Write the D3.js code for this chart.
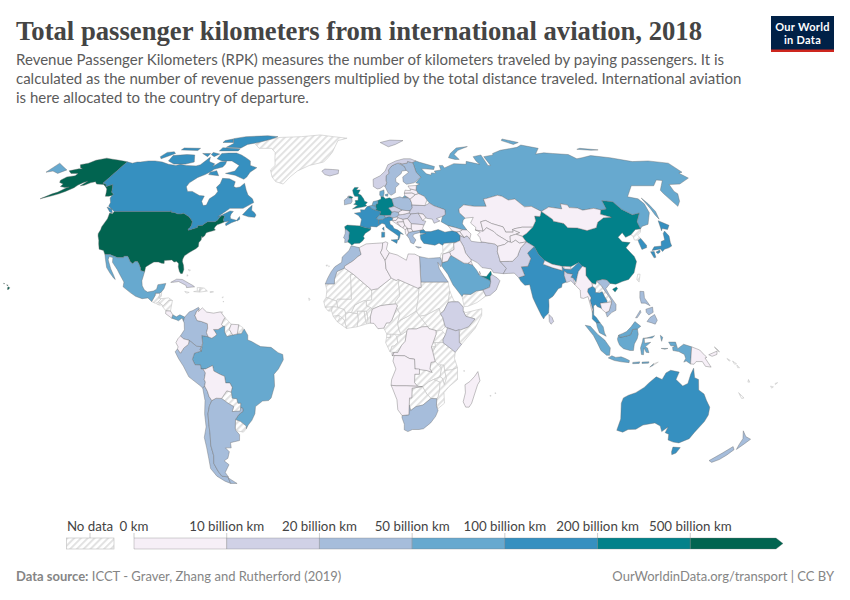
<!DOCTYPE html>
<html>
<head>
<meta charset="utf-8">
<script src="https://cdn.jsdelivr.net/npm/d3@7"></script>
<style>
  html, body { margin: 0; background: #fff; }
  text { font-family: Lato, sans-serif; }
</style>
</head>
<body>
<div id="app"></div>
<script>
// Legend
const binEdges = [10, 20, 50, 100, 200, 500]
const binColors = ['#f6eff7', '#d0d1e6', '#a6bddb', '#67a9cf', '#3690c0', '#02818a', '#016450']
const legendLabels = ['0 km', '10 billion km', '20 billion km', '50 billion km', '100 billion km', '200 billion km', '500 billion km']

// RPK, billion km
const countries = [
  'United States', 'China', 'United Kingdom', 'Germany', 'Spain', 'UAE',
  'Canada', 'France', 'Italy', 'Turkey', 'India', 'Thailand', 'Japan', 'South Korea', 'Australia',
  'Russia', 'Mexico', 'Brazil', 'Saudi Arabia', 'Indonesia', 'Malaysia', 'Netherlands', 'Belgium', 'Switzerland', 'Denmark', 'Panama',
  'Sweden', 'Finland', 'Ireland', 'Poland', 'Portugal', 'Austria', 'Greece', 'Morocco', 'Egypt', 'South Africa', 'Colombia', 'Peru', 'Chile', 'Argentina', 'Philippines', 'Vietnam', 'New Zealand',
  'Norway', 'Iceland', 'Ukraine', 'Romania', 'Czechia', 'Hungary', 'Iran', 'Pakistan', 'Oman', 'Ethiopia', 'Kenya', 'Cuba', 'Sri Lanka', 'Bangladesh',
  'Kazakhstan', 'Mongolia', 'Uzbekistan', 'Turkmenistan', 'Kyrgyzstan', 'Tajikistan', 'Afghanistan', 'Iraq', 'Belarus', 'Lithuania', 'Latvia', 'Estonia', 'Slovakia', 'Slovenia', 'Croatia', 'Bosnia', 'Serbia', 'Montenegro', 'Albania', 'North Macedonia', 'Bulgaria', 'Moldova', 'Georgia', 'Armenia', 'Azerbaijan', 'Algeria', 'Tunisia', 'Libya', 'Nigeria', 'DR Congo', 'Angola', 'Namibia', 'Madagascar', 'Venezuela', 'Ecuador', 'Bolivia', 'Suriname', 'Costa Rica', 'Myanmar', 'Nepal', 'Bhutan', 'Cambodia', 'Papua New Guinea', 'Jordan', 'Qatar', 'Kuwait'
]
const rpk = [
  650, 320, 420, 300, 220, 380,
  180, 190, 120, 130, 110, 120, 150, 140, 160,
  90, 70, 60, 85, 75, 80, 95, 60, 70, 55, 52,
  40, 30, 35, 25, 35, 30, 28, 22, 30, 30, 25, 22, 30, 28, 40, 35, 30,
  18, 14, 15, 12, 14, 12, 15, 16, 12, 14, 12, 11, 12, 12,
  6, 2, 3, 2, 2, 1, 1, 6, 4, 4, 4, 2, 3, 1, 3, 1, 4, 1, 2, 1, 7, 1, 2, 2, 5, 8, 6, 3, 8, 1, 3, 1, 2, 5, 6, 4, 2, 6, 5, 3, 1, 4, 3, 8, 9, 9
]
const noDataCountries = [
  'Greenland', 'Guatemala', 'Belize', 'Honduras', 'El Salvador', 'Nicaragua', 'Haiti', 'Dominican Republic', 'Guyana', 'French Guiana', 'Paraguay', 'Uruguay', 'Syria', 'Israel', 'Yemen', 'Laos', 'Taiwan', 'North Korea', 'Sudan', 'South Sudan', 'Eritrea', 'Somalia', 'Uganda', 'Tanzania', 'Rwanda', 'Burundi', 'Congo', 'Gabon', 'Equatorial Guinea', 'Cameroon', 'Central African Republic', 'Chad', 'Niger', 'Benin', 'Togo', 'Ghana', 'Ivory Coast', 'Burkina Faso', 'Mali', 'Mauritania', 'Senegal', 'Guinea-Bissau', 'Guinea', 'Sierra Leone', 'Liberia', 'Zambia', 'Malawi', 'Mozambique', 'Zimbabwe', 'Botswana', 'Lesotho', 'Eswatini', 'Pacific islands'
]

// Country outlines, [lon, lat] rings
const outlines = {
  'United States': [
    [[-123,49],[-95.2,49],[-95.2,49.4],[-94.6,48.7],[-93,48.6],[-91.5,48.1],[-89.6,48],[-88.4,48.3],[-84.9,46.9],[-84.5,46.5],[-83.6,46.1],[-83.5,45.8],[-82.5,45.3],[-82.1,43.6],[-82.5,42.6],[-83.1,42.1],[-82.7,41.7],[-79,42.8],[-79,43.3],[-79.2,43.5],[-76.8,43.6],[-76.4,44.1],[-75,45],[-71.5,45],[-70.8,45.4],[-70.3,46.2],[-70,46.7],[-69.2,47.45],[-68.3,47.35],[-67.8,47.07],[-67.8,45.7],[-67,44.9],[-68.5,44.3],[-70,43.8],[-70.7,43],[-70.8,42.3],[-70,41.8],[-71.4,41.4],[-73.7,40.9],[-74,40.5],[-74.2,39.6],[-75,38.9],[-75.5,39.5],[-75.3,38],[-76,37],[-75.7,35.5],[-76.6,34.7],[-78,33.9],[-79.2,33.2],[-81,32],[-81.4,30.7],[-81.3,29.8],[-80.5,28.4],[-80,26.8],[-80.3,25.3],[-81,25.2],[-81.8,26],[-82.7,27.8],[-82.8,29],[-83.8,29.8],[-85,29.6],[-86.2,30.4],[-88,30.3],[-89.5,30.2],[-89.3,29.1],[-90.5,29.2],[-92,29.6],[-94,29.6],[-95.5,28.8],[-97.2,27.7],[-97.2,25.95],[-99.1,26.4],[-99.5,27.5],[-100.5,28.9],[-101.4,29.8],[-102.5,29.8],[-103.3,29],[-104.5,29.6],[-106.5,31.8],[-108.2,31.8],[-108.2,31.3],[-111,31.3],[-114.8,32.5],[-117.1,32.5],[-118.4,34],[-120.6,34.5],[-121.9,36.6],[-122.5,37.8],[-123.8,39.5],[-124.3,40.4],[-124.2,42],[-124.5,43],[-124,46.2],[-124.7,48.4],[-123,48.1]],
    [[-141,69.6],[-141,60.3],[-139,60],[-137.5,58.9],[-136.5,59.4],[-135,59.8],[-133.5,58.4],[-131.8,56.6],[-130,55.9],[-130,55.3],[-131.5,55],[-133.2,55],[-134.5,56.5],[-136,58],[-138,59],[-140,59.8],[-144,60],[-146,61],[-148,60.5],[-150,59.5],[-151.8,59.3],[-150.5,61.2],[-152,60.7],[-153.5,59.5],[-154,58.5],[-156.5,57],[-158.5,56],[-161,55.2],[-165.5,54],[-162,56],[-160,56.7],[-158,58.5],[-157,58.8],[-159,58.6],[-162,59],[-162,60],[-165,60.7],[-166,61.6],[-164.8,63],[-161,63.5],[-161,64.5],[-165,64.5],[-168,65.6],[-164,66.5],[-162,66.5],[-164,67],[-166.5,68.3],[-163,69],[-161,70.3],[-156.5,71.3],[-152,70.8],[-148,70.4],[-144,70]],
    [[-155.9,20.2],[-155,19.8],[-155.7,19],[-156,19.7]],
    [[-158.2,21.6],[-157.7,21.4],[-158.1,21.3]],
    [[-156.7,21],[-156,20.8],[-156.4,20.6]]
  ],
  'Canada': [
    [[-141,69.6],[-137,69],[-135,69.5],[-133,69.5],[-129,70],[-125,70],[-120,69.5],[-115,68.5],[-110,68],[-108,68.5],[-104,68],[-98,67.8],[-96,68.3],[-94,71.8],[-92.5,70],[-91.5,69.5],[-88,68.7],[-88,67.5],[-85.5,69.5],[-82,69.8],[-81.5,68.5],[-82,67.3],[-86,66.3],[-87,65.2],[-89,64],[-92,62.8],[-94.5,60.5],[-94.7,58.9],[-92.5,57],[-90,57],[-85,55.3],[-82.3,55.1],[-82.3,53],[-80.5,51.3],[-79,51.5],[-79,54],[-77,55.5],[-76.6,57],[-78.5,58.7],[-77.5,60.2],[-78,62.4],[-74,62.2],[-70,61],[-69.5,59],[-68,58.5],[-66,58.8],[-64.5,60.3],[-62,57.5],[-60,55.5],[-57,54],[-55.7,52.5],[-58,51.3],[-60,50.2],[-66.5,50.2],[-69,48.4],[-71,46.9],[-69.5,47.5],[-66,49.2],[-64.3,49],[-65,48],[-65,47],[-64.5,46.2],[-62,45.7],[-61,45.3],[-60,46],[-60.5,47],[-61.5,45.3],[-63.5,44.6],[-65.7,43.5],[-66.2,44.2],[-65,45.2],[-67,44.9],[-67.8,45.7],[-67.8,47.07],[-68.3,47.35],[-69.2,47.45],[-70,46.7],[-70.3,46.2],[-70.8,45.4],[-71.5,45],[-75,45],[-76.4,44.1],[-76.8,43.6],[-79.2,43.5],[-79,43.3],[-79,42.8],[-82.7,41.7],[-83.1,42.1],[-82.5,42.6],[-82.1,43.6],[-82.5,45.3],[-83.5,45.8],[-83.6,46.1],[-84.5,46.5],[-84.9,46.9],[-88.4,48.3],[-89.6,48],[-91.5,48.1],[-93,48.6],[-94.6,48.7],[-95.2,49.4],[-95.2,49],[-123,49],[-125,50],[-127.5,51],[-128,52.5],[-130,54.3],[-130,55.3],[-130,55.9],[-131.8,56.6],[-133.5,58.4],[-135,59.8],[-136.5,59.4],[-137.5,58.9],[-139,60],[-141,60.3]],
    [[-59.3,47.7],[-56,46.9],[-53,46.7],[-52.7,47.6],[-53.7,48.5],[-55.5,49.5],[-56,51.4],[-57.5,50]],
    [[-123.4,48.4],[-125,48.8],[-128,50.7],[-125,50]],
    [[-80,73.7],[-76,72.8],[-72,71.5],[-68,70],[-66.5,68],[-62,67],[-64.5,65],[-65,63],[-66,62],[-72,63.7],[-78,64.5],[-73.5,65.5],[-73,68],[-79,70],[-85,70],[-89,71],[-89,73.5],[-85,73.7]],
    [[-117,70],[-112,68.6],[-105,68.6],[-101,69.5],[-105,72.8],[-110,73],[-118,72.5]],
    [[-125,72],[-123,71],[-118,73.5],[-120,74.3],[-124,74]],
    [[-90,76.5],[-80,76.2],[-78,78],[-72,79],[-65,81],[-62,82.5],[-70,83.1],[-85,82.5],[-92,81.2],[-88,78.5]],
    [[-92,74.7],[-80,74.7],[-80,75.8],[-92,76.3]],
    [[-96,79],[-89,79],[-92,81],[-96,80]],
    [[-117,75.2],[-106,74.9],[-106,76],[-117,76.2]],
    [[-101,73.5],[-96,72],[-96,73.5]],
    [[-95,74],[-90,73.2],[-92,72],[-95,73]],
    [[-87,64],[-81,63.5],[-84,65.7],[-87,65]]
  ],
  'Mexico': [[[-117.1,32.5],[-114.8,32.5],[-111,31.3],[-108.2,31.3],[-108.2,31.8],[-106.5,31.8],[-104.5,29.6],[-103.3,29],[-102.5,29.8],[-101.4,29.8],[-100.5,28.9],[-99.5,27.5],[-99.1,26.4],[-97.2,25.95],[-97.7,22.5],[-97.2,20.6],[-96,19],[-94.5,18.2],[-92,18.6],[-90.7,19.3],[-90.4,21],[-87,21.5],[-87.5,19.5],[-88.3,18.4],[-89.1,17.8],[-91,17.8],[-91,16.9],[-92.2,14.6],[-94,16],[-96.5,15.7],[-99.5,16.6],[-102,18],[-105.5,20.2],[-105.5,22],[-108,25],[-109.5,26.7],[-112.5,29.5],[-113,31.3],[-114.8,31.7],[-114.8,30.5],[-112.5,27],[-110.5,24.5],[-109.5,23],[-110.3,23.5],[-112.5,25.5],[-114.5,27.5],[-116,30.5]]],
  'Greenland': [[[-73,78.2],[-68,76],[-60,76],[-56,74],[-54,71],[-52,68],[-53.5,66],[-51,63],[-48,61],[-43.5,60],[-41,63],[-38,65.5],[-32,68],[-24,69.5],[-22,71.5],[-20,74],[-19,77],[-18,80],[-12,81.5],[-22,82.5],[-32,83.6],[-45,82.5],[-60,82],[-65,81],[-70,79.5]]],
  'Guatemala': [[[-92.2,14.6],[-91,16.9],[-91,17.8],[-89.1,17.8],[-89.2,15.9],[-88.2,15.7],[-89.3,14.4],[-90.5,13.9]]],
  'Belize': [[[-89.1,17.8],[-88.3,18.4],[-88.3,16.5],[-89.2,15.9]]],
  'Honduras': [[[-88.2,15.7],[-85,16],[-83.2,15],[-84.7,15],[-87,13],[-87.7,13.4],[-89.3,14.4]]],
  'El Salvador': [[[-90,13.7],[-89.3,14.4],[-87.7,13.4],[-88.5,13.2]]],
  'Nicaragua': [[[-83.2,15],[-83.7,11],[-85.7,11.1],[-87.6,13],[-87,13],[-84.7,15]]],
  'Costa Rica': [[[-83.7,11],[-82.6,9.6],[-83,8.3],[-85.7,10],[-85.7,11.1]]],
  'Panama': [[[-82.6,9.6],[-81,8.8],[-79.5,9.6],[-77.4,8.7],[-77.9,7.2],[-78.5,8.4],[-80,7.3],[-81,7.7],[-83,8.3]]],
  'Cuba': [[[-84.9,21.9],[-82.5,23.1],[-80,23],[-75,20.7],[-74.2,20.2],[-77.7,19.9],[-78,20.7],[-81.5,22.2],[-84,21.9]]],
  'Haiti': [[[-74.4,18.4],[-71.7,18.2],[-71.7,19.9],[-73,19.9],[-72.8,18.6]]],
  'Dominican Republic': [[[-71.7,18.2],[-68.4,18.6],[-69.9,19.7],[-71.7,19.9]]],
  'Colombia': [[[-77.4,8.7],[-75.5,10.7],[-74,11.2],[-71.7,12.4],[-71.3,11.8],[-72.3,11],[-73,9.3],[-72,7.4],[-70,7],[-67.5,6.2],[-67.3,4.5],[-67.8,2.8],[-67,1.2],[-69.8,1.7],[-69.4,-1.2],[-70,-2.5],[-70.7,-3.8],[-70,-4.2],[-70,-2.5],[-72,-2.4],[-75.2,-0.1],[-77.5,0.4],[-79,1.5],[-77.3,3.9],[-77.5,6.5],[-77.9,7.2]]],
  'Venezuela': [[[-71.3,11.8],[-71.6,10.8],[-70,12.2],[-68,10.6],[-65,10.2],[-62,10.7],[-60,8.5],[-60.7,7.5],[-61.4,5.9],[-60.7,5.2],[-62.8,4],[-64.8,4],[-63.4,2.2],[-64,1.5],[-65.5,0.7],[-67,1.2],[-67.8,2.8],[-67.3,4.5],[-67.5,6.2],[-70,7],[-72,7.4],[-73,9.3],[-72.3,11]]],
  'Guyana': [[[-60,8.5],[-57.2,6],[-58,4],[-56.5,1.9],[-59,1.3],[-60,3],[-60,5.2],[-60.7,5.2],[-61.4,5.9],[-60.7,7.5]]],
  'Suriname': [[[-57.2,6],[-54,5.8],[-54.5,2.3],[-56.5,1.9],[-58,4]]],
  'French Guiana': [[[-54,5.8],[-52,4.6],[-52.7,2.4],[-54.5,2.3]]],
  'Brazil': [[[-60.7,5.2],[-60,5.2],[-60,3],[-59,1.3],[-56.5,1.9],[-54.5,2.3],[-52.7,2.4],[-51.6,4.2],[-50,1.8],[-50,0],[-48.5,-0.5],[-44.5,-2.5],[-40,-2.8],[-37,-4.8],[-35,-5.5],[-34.8,-7.5],[-37,-11],[-39,-13],[-39,-17.5],[-40.8,-22],[-42,-23],[-44.7,-23.2],[-48,-25.3],[-48.6,-28],[-50.3,-30.5],[-52.3,-32.3],[-53.4,-33.7],[-53.2,-32.7],[-55.5,-30.9],[-57.6,-30.2],[-55.8,-28.3],[-53.8,-27.1],[-53.7,-26],[-54.6,-25.6],[-54.3,-24],[-55.6,-24],[-55.9,-22.3],[-57.9,-22.1],[-58,-20],[-58.2,-19.8],[-57.5,-18],[-58.4,-16.3],[-60.2,-16.3],[-60.5,-13.8],[-62.5,-13],[-65,-11.8],[-65.4,-9.7],[-68.5,-11],[-70.5,-11],[-70.6,-9.5],[-73,-9.4],[-74,-7.3],[-73,-5],[-70,-4.2],[-69.4,-1.2],[-69.8,1.7],[-67,1.2],[-65.5,0.7],[-64,1.5],[-63.4,2.2],[-64.8,4],[-62.8,4]]],
  'Ecuador': [[[-75.2,-0.1],[-77.5,0.4],[-79,1.5],[-80,0.5],[-80.9,-1],[-80,-2.6],[-80.3,-3.4],[-79,-5],[-77.5,-3],[-75.5,-1.6]]],
  'Peru': [[[-75.2,-0.1],[-75.5,-1.6],[-77.5,-3],[-79,-5],[-80.3,-3.4],[-81.3,-4.5],[-80,-7],[-78,-10],[-76,-14],[-71.5,-17.3],[-70.4,-18.3],[-69.5,-17.5],[-69,-16],[-69.4,-15],[-68.7,-12.5],[-69.6,-11],[-70.5,-11],[-70.6,-9.5],[-73,-9.4],[-74,-7.3],[-73,-5],[-70,-4.2],[-70.7,-3.8],[-70,-2.5],[-72,-2.4]]],
  'Bolivia': [[[-69.6,-11],[-68.5,-11],[-65.4,-9.7],[-65,-11.8],[-62.5,-13],[-60.5,-13.8],[-60.2,-16.3],[-58.4,-16.3],[-57.5,-18],[-58.2,-19.8],[-60,-19.3],[-62.6,-22.2],[-65,-22.1],[-67,-23],[-68,-21.5],[-68.5,-19.5],[-69.5,-17.5],[-69,-16],[-69.4,-15],[-68.7,-12.5]]],
  'Paraguay': [[[-58.2,-19.8],[-58,-20],[-57.9,-22.1],[-55.9,-22.3],[-55.6,-24],[-54.3,-24],[-54.6,-25.6],[-55,-27],[-58.6,-27.2],[-57.6,-25.3],[-60,-24],[-62.6,-22.2],[-60,-19.3]]],
  'Uruguay': [[[-53.4,-33.7],[-53.2,-32.7],[-55.5,-30.9],[-57.6,-30.2],[-58.4,-33.5],[-57.8,-34.5],[-55,-35]]],
  'Argentina': [
    [[-67,-23],[-65,-22.1],[-62.6,-22.2],[-60,-24],[-57.6,-25.3],[-58.6,-27.2],[-55,-27],[-54.6,-25.6],[-53.7,-26],[-53.8,-27.1],[-55.8,-28.3],[-57.6,-30.2],[-58.4,-33.5],[-58.4,-34.2],[-57,-36],[-57.6,-38.2],[-62,-39],[-62.3,-41],[-65,-41],[-63.7,-42.5],[-65.3,-45],[-67.5,-46],[-65.8,-47.5],[-69,-50.5],[-68.4,-52.3],[-71.5,-52],[-72.3,-50],[-73,-47],[-71.7,-44],[-71.5,-40],[-70.5,-36],[-70,-32],[-69.5,-28],[-68.3,-25]],
    [[-68.6,-52.7],[-65.3,-54.9],[-68.6,-54.9]]
  ],
  'Chile': [[[-70.4,-18.3],[-70,-23],[-71,-28],[-71.5,-33],[-73.5,-37],[-73.8,-41],[-74.5,-45],[-75.5,-49],[-74,-52],[-71,-54],[-68.6,-54.9],[-68.6,-52.7],[-68.4,-52.3],[-71.5,-52],[-72.3,-50],[-73,-47],[-71.7,-44],[-71.5,-40],[-70.5,-36],[-70,-32],[-69.5,-28],[-68.3,-25],[-67,-23],[-68,-21.5],[-68.5,-19.5],[-69.5,-17.5]]],
  'Spain': [[[-9.2,43.1],[-8,43.7],[-3.5,43.5],[-1.8,43.4],[0.7,42.7],[3.2,42.4],[3,41.8],[0.5,40.5],[-0.3,39.3],[0.2,38.7],[-0.7,37.6],[-2,36.8],[-4.4,36.7],[-5.6,36],[-6.4,36.7],[-7.4,37.2],[-7.5,37.6],[-7,38.5],[-7,39.6],[-6.9,41],[-8.2,41.9],[-8.8,41.9]]],
  'Portugal': [[[-8.8,41.9],[-8.2,41.9],[-6.9,41],[-7,39.6],[-7,38.5],[-7.5,37.6],[-7.4,37.2],[-8.9,37],[-8.8,38.4],[-9.5,38.8],[-8.8,40.5]]],
  'France': [
    [[-1.8,43.4],[-1.2,46],[-2.7,47.4],[-4.7,48.3],[-1.5,48.7],[-1.7,49.7],[0.2,49.6],[1.6,50.9],[2.5,51.1],[4.2,50],[5.8,49.5],[8.2,49],[7.6,47.6],[6,46.3],[7,45.8],[7,44.2],[7.5,43.8],[6,43],[3.2,43.2],[3.2,42.4],[0.7,42.7]],
    [[8.6,42.3],[9.4,43],[9.5,41.6]]
  ],
  'Belgium': [[[2.5,51.1],[4,51.4],[5.9,51],[6.1,50.1],[5.8,49.5],[4.2,50]]],
  'Netherlands': [[[4,51.4],[4.7,52.9],[7,53.3],[7,52],[6,51.8],[5.9,51]]],
  'Germany': [[[7,53.3],[8.7,53.9],[8.7,54.9],[9.9,54.8],[11,54],[13,54.4],[14.2,53.9],[14.7,52],[15,51],[12.2,50.3],[13.8,48.8],[13,47.5],[10,47.4],[7.6,47.6],[8.2,49],[5.8,49.5],[6.1,50.1],[5.9,51],[6,51.8],[7,52]]],
  'Switzerland': [[[7.6,47.6],[10,47.4],[10.4,46.6],[9,45.9],[7,45.8],[6,46.3]]],
  'Austria': [[[10,47.4],[13,47.5],[13.8,48.8],[15,49],[17,48.7],[17,47.7],[16,46.8],[14,46.5],[12.2,47],[10.4,46.6]]],
  'Italy': [
    [[7,45.8],[9,45.9],[10.4,46.6],[12.2,47],[14,46.5],[13.7,45.6],[12.3,45.3],[12.5,44],[13.6,43.5],[14.2,42.4],[16,41.8],[18.4,40.1],[17,40.5],[16.6,39],[16,38],[15.7,38],[16,39.5],[14,40.8],[12.3,41.7],[10.5,42.9],[10,44],[8.6,44.4],[7.5,43.8],[7,44.2]],
    [[12.5,38],[15.6,38.2],[15.1,36.7]],
    [[8.2,39],[8.3,41],[9.7,41],[9.6,39.1]]
  ],
  'United Kingdom': [
    [[-5.7,50],[-3.5,50.3],[0,50.8],[1.4,51.2],[0.7,51.6],[1.7,52.6],[0.3,53],[-0.2,54],[-1.6,55.5],[-3,56],[-2,57.6],[-4,57.6],[-3,58.6],[-5,58.6],[-6,57.5],[-5.5,56],[-4.8,55],[-3,54.9],[-3,54],[-3,53.4],[-4.5,53.3],[-4.2,52.3],[-5.2,51.8],[-3.2,51.4]],
    [[-7.3,55.1],[-5.7,54.6],[-6.2,54.1],[-8,54.4]]
  ],
  'Ireland': [[[-7.3,55.1],[-8,54.4],[-6.2,54.1],[-6,53],[-6.5,52.2],[-9.8,51.6],[-10,53.5],[-8.5,54.4],[-8.2,55.1]]],
  'Denmark': [
    [[8.1,55.5],[8.7,54.9],[9.9,54.8],[10.5,56.3],[10.5,57.6],[8.3,57]],
    [[11,55.7],[12.5,56],[12.2,55],[11,55.2]]
  ],
  'Norway': [
    [[5,59],[7,58],[8.5,58.2],[10.7,59.3],[11.2,59],[12.3,60.5],[12,61.5],[12.3,63.5],[14,64.5],[14,66],[16,67.7],[18,68.5],[20,69],[21,69],[22.5,68.7],[25.5,69],[26,69.8],[28.5,69.2],[31,70],[28,71],[24,71],[19,70],[14,68.3],[12,65.5],[9,63.5],[5,62]],
    [[11,79],[16,76.8],[21,78],[27,80],[18,80.3]]
  ],
  'Sweden': [[[11.2,59],[12.6,56.3],[14,55.4],[16.4,56.5],[16.7,58.5],[19,60],[17.3,61],[17.5,62.5],[21,64.5],[21.5,65.5],[24.1,65.8],[23.6,67.5],[20,69],[18,68.5],[16,67.7],[14,66],[14,64.5],[12.3,63.5],[12,61.5],[12.3,60.5]]],
  'Finland': [[[24.1,65.8],[25.3,65],[21.5,63],[21.3,61],[22.9,59.9],[27,60.5],[31.5,62.9],[29.5,65],[29,69],[28.5,69.2],[26,69.8],[25.5,69],[22.5,68.7],[21,69],[23.6,67.5]]],
  'Iceland': [[[-24,65.5],[-22,64],[-19,63.4],[-14.5,64.4],[-14.5,66],[-18,66.2],[-22.5,66.4]]],
  'Poland': [[[14.2,53.9],[18.5,54.8],[19.7,54.4],[22.8,54.4],[23.5,53.9],[24,52.5],[24,50.5],[22.7,49.2],[18.8,49.5],[15,51],[14.7,52]]],
  'Czechia': [[[12.2,50.3],[15,51],[18.8,49.5],[17,48.7],[15,49],[13.8,48.8]]],
  'Slovakia': [[[17,48.7],[18.8,49.5],[22.7,49.2],[22,48.4],[18.8,47.8],[17,47.7]]],
  'Hungary': [[[17,47.7],[18.8,47.8],[22,48.4],[22.9,48],[21,46.2],[18.8,45.9],[16.4,46.5],[16,46.8]]],
  'Slovenia': [[[13.7,45.5],[13.7,45.6],[14,46.5],[16,46.8],[16.4,46.5],[15.5,45.5]]],
  'Croatia': [[[13.6,45.3],[13.7,45.5],[15.5,45.5],[16.4,46.5],[18.8,45.9],[19,45],[15.8,44.8],[17.6,43],[15,44.5]]],
  'Bosnia': [[[15.8,44.8],[19,45],[19.4,43.6],[18.4,42.6],[17.6,43]]],
  'Serbia': [[[19,45],[18.8,45.9],[21,46.2],[22.6,44.2],[22.4,42.3],[20.5,42.3],[19.4,43.6]]],
  'Montenegro': [[[18.4,42.6],[19.4,43.6],[20.5,42.5],[19.4,41.9]]],
  'Albania': [[[19.4,41.9],[20.5,42.5],[20.9,40.9],[20,39.7],[19.4,40.5]]],
  'North Macedonia': [[[20.5,42.3],[22.4,42.3],[23,41.3],[20.9,40.9]]],
  'Greece': [
    [[20,39.7],[20.9,40.9],[23,41.3],[26.3,41.7],[26,40.8],[23.5,40.3],[22.7,39.5],[24,38],[22.8,36.5],[21.5,37],[21,38.5]],
    [[23.6,35.5],[26.2,35.2],[24.8,34.9]]
  ],
  'Bulgaria': [[[22.4,42.3],[22.6,44.2],[27.7,43.9],[28.5,43.6],[27.7,42.5],[28,42],[26.3,41.7],[23,41.3]]],
  'Romania': [[[21,46.2],[22.9,48],[26.6,48.3],[28.2,45.5],[29.7,45.2],[28.5,43.6],[27.7,43.9],[22.6,44.2]]],
  'Moldova': [[[26.6,48.3],[29,47.9],[30,46.5],[28.2,45.5]]],
  'Ukraine': [[[22.7,49.2],[24,50.5],[24,51.6],[30.5,51.3],[33,52.3],[35,51.2],[40,49.7],[39.7,47.8],[38.2,47.1],[35,46.2],[36.5,45.3],[33.5,44.4],[33,46],[30.5,46.3],[30,46.5],[29,47.9],[26.6,48.3],[22.9,48],[22,48.4]]],
  'Belarus': [[[24,52.5],[23.5,53.9],[26.6,55.7],[28.2,56.1],[31,55],[32,53.5],[30.5,51.3],[24,51.6]]],
  'Lithuania': [[[21,55.3],[21,56.3],[25,56.4],[26.6,55.7],[23.5,53.9],[22.8,54.4]]],
  'Latvia': [[[21,56.3],[21.6,57.5],[24.4,57.3],[24.4,58],[27.4,57.5],[28.2,56.1],[26.6,55.7],[25,56.4]]],
  'Estonia': [[[23.5,59.2],[28,59.4],[27.4,57.5],[24.4,58],[24,58.4]]],
  'Turkey': [[[26.3,41.7],[28,42],[29,41.2],[31.4,41.2],[35,42],[38,41],[41.5,41.5],[43.5,41.1],[44.8,39.7],[44.4,37.8],[42.4,37.1],[36.7,36.8],[36,36],[34.5,36.8],[32.5,36],[30.5,36.3],[27.5,36.7],[26.3,38.3],[26.2,40],[29,40.5],[26.2,40.6]]],
  'Russia': [
    [[31,70],[33,69.4],[41,67.5],[40,66.2],[35,66.5],[33,66.5],[35,64.3],[37.5,63.8],[38,64.7],[40.5,64.6],[40,65.5],[44,66],[44,68],[46,68],[46.5,66.9],[53,68.8],[60,68.5],[61,69.8],[68,68.5],[67,70],[67,72],[72.5,72.8],[72.5,68],[74,68],[73.5,72],[80,72.8],[80.5,73.5],[87,75],[100,76.5],[104.5,77.7],[113,76],[107,73.2],[113,73.8],[118,73.5],[127,73],[129,71],[133,71.5],[140,72.5],[150,71.5],[160,69.7],[170,70],[180,69],[180,65],[177.5,64.6],[179,62.5],[170,60],[164,59.8],[162.5,57],[163,56],[160,53],[156.7,51],[155.7,56],[156,57.5],[163,61.5],[160,61.7],[155,59.3],[143,59.3],[135.5,54.8],[140,54],[141,52],[140,48.5],[135.5,44],[132,43.2],[130.7,42.3],[131,45],[135,48.4],[131,47.7],[127.5,49.8],[126,52.8],[120.8,53.3],[120,50],[117,49.6],[114,50.2],[108,49.5],[106,50.3],[102,50.5],[102,51.5],[98.8,52],[98,50],[92,50.7],[87.3,49],[83.5,51],[80,50.8],[77,53.9],[73.4,53.5],[71,55],[69,55.4],[62,54],[61,53.9],[61,51],[55,51],[50,51.6],[47,50],[46.8,48.5],[49,46.4],[47.8,45.7],[47,44.2],[48.5,41.8],[46.5,41.9],[43.5,42.7],[40,43.5],[37,45],[38.2,47.1],[39.7,47.8],[40,49.7],[35,51.2],[33,52.3],[32,53.5],[31,55],[28.2,56.1],[27.4,57.5],[28,59.4],[30,60],[28,60.5],[31.5,62.9],[29.5,65],[29,69],[28.5,69.2]],
    [[142,54.3],[143,52],[143.5,49],[142.5,46],[142,47.5],[142,50]],
    [[51.5,71.5],[55,70.7],[57.5,70.7],[56,73],[60,75],[68,76.9],[60,76.2],[54,73.5]],
    [[95,80],[100,78],[105,79],[97,81]],
    [[137,75.5],[145,75],[150,75.2],[140,76]],
    [[-180,69],[-175,67.5],[-170,66],[-172.5,64.5],[-177,65.5],[-180,65]],
    [[19.7,54.4],[22.8,54.4],[21,55.3]]
  ],
  'Georgia': [[[40,43.5],[43.5,42.7],[46.5,41.9],[45,41.2],[43.5,41.1],[41.5,41.5]]],
  'Armenia': [[[43.5,41.1],[45,41.2],[46.5,39],[44.8,39.7]]],
  'Azerbaijan': [[[45,41.2],[46.5,41.9],[48.5,41.8],[50,40.3],[49,38.4],[48,39.6],[46.5,39]]],
  'Kazakhstan': [[[47,50],[50,51.6],[55,51],[61,51],[61,53.9],[62,54],[69,55.4],[71,55],[73.4,53.5],[77,53.9],[80,50.8],[83.5,51],[87.3,49],[85.5,47],[83,47.2],[82.5,45.3],[80,42.9],[75,42.9],[71,42.3],[70,41],[66.5,41],[66,43],[61,44.3],[58.5,45.5],[56,45],[56,41.3],[52.5,41.8],[53,42.8],[51,44.5],[53,46.7],[49,46.4],[46.8,48.5]]],
  'Uzbekistan': [[[56,45],[58.5,45.5],[61,44.3],[66,43],[66.5,41],[70,41],[70,42],[73,40.8],[71,40.2],[68,39.5],[67.5,37.3],[66.5,37.4],[62,40],[61,41.2],[58,42.7],[56,41.3]]],
  'Turkmenistan': [[[52.5,41.8],[56,41.3],[58,42.7],[61,41.2],[62,40],[66.5,37.4],[64.5,36.3],[61.2,35.6],[60,36.5],[54,37.3],[53.8,39],[53,40],[54.5,41]]],
  'Tajikistan': [[[67.5,37.3],[68,39.5],[71,40.2],[73.6,39.4],[74.8,37.3],[71.5,36.8],[70,37.9],[68,37]]],
  'Kyrgyzstan': [[[70,42],[71,42.3],[75,42.9],[80,42.9],[76,40.5],[73.6,39.4],[71,40.2],[73,40.8]]],
  'Iran': [[[44.8,39.7],[46.5,39],[48,39.6],[49,38.4],[49.5,37.5],[54,37],[54,37.3],[60,36.5],[61.2,35.6],[60.5,33.5],[60.8,31.5],[61,29.8],[63.3,27.2],[61.6,25.2],[57.3,25.6],[56.5,27],[52.5,27.5],[50.8,29.3],[48.7,30.3],[48,30.5],[46,33],[45.5,35.5],[44.4,37.8]]],
  'Iraq': [[[42.4,37.1],[44.4,37.8],[45.5,35.5],[46,33],[48,30.5],[48,29.9],[46.5,29.1],[44.7,29.2],[39.2,32.2],[38.8,33.4],[41,34.4],[41.2,36.7]]],
  'Syria': [[[36,36],[36.7,36.8],[42.4,37.1],[41.2,36.7],[41,34.4],[38.8,33.4],[36,32.7],[35.7,33],[35.9,35]]],
  'Jordan': [[[36,32.7],[38.8,33.4],[39.2,32.2],[37.5,30],[35,29.4],[35.6,32.5]]],
  'Israel': [[[34.3,31.3],[35,33],[35.7,33],[35.6,32.5],[35,29.4]]],
  'Saudi Arabia': [[[35,29.4],[37.5,30],[39.2,32.2],[44.7,29.2],[46.5,29.1],[48.4,28.5],[50,26.5],[51,24.6],[51.6,24.3],[55.1,22.7],[55.7,22],[55,20],[52,19],[49,18.6],[46.5,17.3],[43.3,17.4],[42.7,16.5],[39,21],[37,25],[34.6,28.1]]],
  'UAE': [[[51.6,24.3],[54,24.1],[56.2,26.2],[56.4,24.9],[55.7,24],[55.7,22],[55.1,22.7]]],
  'Qatar': [[[50.8,24.8],[51.2,26.1],[51.6,25]]],
  'Kuwait': [[[46.5,29.1],[48,29.9],[48.4,28.5]]],
  'Oman': [[[55.7,22],[55.7,24],[56.4,24.9],[58.7,23.6],[59.8,22.5],[57.8,19],[55,17],[53.1,16.7],[52,19],[55,20]]],
  'Yemen': [[[43.3,17.4],[46.5,17.3],[49,18.6],[52,19],[53.1,16.7],[49,14.2],[45,12.8],[43.4,12.7],[42.7,16.5]]],
  'Afghanistan': [[[60.5,33.5],[61.2,35.6],[64.5,36.3],[66.5,37.4],[68,37],[70,37.9],[71.5,36.8],[74.8,37.3],[71.5,35],[70,33],[69.3,31.9],[66.5,29.9],[61,29.8],[60.8,31.5]]],
  'Pakistan': [[[61,29.8],[66.5,29.9],[69.3,31.9],[70,33],[71.5,35],[74.8,37.3],[77.8,35.5],[74,33],[75,31],[73,28],[70,27.8],[71,24.5],[68.2,23.7],[66.5,25.4],[61.6,25.2],[63.3,27.2]]],
  'India': [[[74,33],[77.8,35.5],[78.9,32.5],[81,30.2],[80,28.8],[84,27.4],[88,26.4],[88.2,28],[89,27],[92,26.9],[96,29.4],[97.3,28],[95,26],[94,24],[93.2,22],[92.3,23.5],[91.2,23.8],[92.2,25],[89.9,25.3],[88.8,26.2],[88.4,24.5],[88.9,22],[87,21.4],[86.5,20],[85,19.5],[82.3,16.6],[80.3,15.5],[80.2,13],[79.8,10.3],[78,8.8],[77.5,8],[76.5,9.5],[74.8,13],[73.5,16],[72.8,20],[72.7,21],[70.5,20.8],[69,22.3],[68.2,23.7],[71,24.5],[70,27.8],[73,28],[75,31]]],
  'Nepal': [[[80,28.8],[81,30.2],[84,28.8],[88.2,28],[88,26.4],[84,27.4]]],
  'Bhutan': [[[89,27],[89,28],[92,27.8],[92,26.9]]],
  'Bangladesh': [[[88.8,26.2],[89.9,25.3],[92.2,25],[91.2,23.8],[92.3,23.5],[92.5,21],[91,22.5],[89,21.8],[88.9,22],[88.4,24.5]]],
  'Sri Lanka': [[[79.9,9.7],[81.2,8.5],[81.8,7],[80.6,6],[79.9,7]]],
  'China': [
    [[73.6,39.4],[76,40.5],[80,42.9],[82.5,45.3],[83,47.2],[85.5,47],[87.3,49],[91,46],[91,45.2],[95.5,44.3],[96.5,42.7],[101,42.6],[105,41.6],[110,42.7],[112,44.8],[116,46.5],[120,46.7],[115.5,47.9],[117,49.6],[120,50],[120.8,53.3],[126,52.8],[127.5,49.8],[131,47.7],[135,48.4],[131,45],[130.7,42.3],[128,42],[124.5,40],[121.5,39],[121,40.8],[118,39],[119,37.3],[122.5,37],[119.5,35],[121.8,31.7],[122,29.8],[119.5,25.5],[116.5,23],[113.5,22.2],[110.5,21.2],[108,21.5],[106.8,22.8],[105,23],[102.2,22.4],[101.7,21.2],[100,21.7],[99,23],[98,24.5],[98.7,27.5],[97.3,28],[96,29.4],[92,27.8],[89,28],[88.2,28],[84,28.8],[81,30.2],[78.9,32.5],[77.8,35.5],[74.8,37.3]],
    [[108.7,19.3],[110.5,20.1],[111,19.6],[109.6,18.2]]
  ],
  'Mongolia': [[[87.3,49],[92,50.7],[98,50],[98.8,52],[102,51.5],[102,50.5],[106,50.3],[108,49.5],[114,50.2],[117,49.6],[115.5,47.9],[120,46.7],[116,46.5],[112,44.8],[110,42.7],[105,41.6],[101,42.6],[96.5,42.7],[95.5,44.3],[91,45.2],[91,46]]],
  'Taiwan': [[[121,25],[122,25],[120.9,22],[120.1,23]]],
  'North Korea': [[[124.5,40],[128,42],[130.7,42.3],[129.7,41],[127.5,39.8],[128.3,38.6],[126.7,37.9],[125,38],[125.2,39.5]]],
  'South Korea': [[[126.7,37.9],[128.3,38.6],[129.4,36],[129,35.1],[126.5,34.4],[126.5,37]]],
  'Japan': [
    [[130.9,34],[132.6,35.4],[136,35.7],[137,37.4],[139,38],[140,40.5],[141.3,41.4],[142,39.5],[141,37],[140.8,35.7],[139,35],[136.8,34.5],[135.5,33.6],[135,34.6],[132.5,34.2]],
    [[130,33.5],[131.7,33.6],[131.4,31.4],[130.5,31.2]],
    [[132.4,33.4],[134.5,34.2],[134.3,33.4],[133,32.8]],
    [[140,41.5],[141.5,45.4],[145.2,43.6],[143.2,42],[141,42.4]]
  ],
  'Myanmar': [[[92.5,21],[93.2,22],[94,24],[95,26],[97.3,28],[98.7,27.5],[98,24.5],[99,23],[100,21.7],[100.1,20.4],[98,19.5],[97.6,18.3],[98.8,16],[98.2,15],[99,11.5],[98.7,10.5],[98,14],[97.5,16.5],[95.5,15.8],[94.3,16],[94.5,19],[93.5,19.9]]],
  'Thailand': [[[100.1,20.4],[101.2,19.5],[101,18],[102.7,17.9],[104,18.3],[104.7,16.5],[105.5,15],[105.5,14.2],[102.5,14],[102.9,12],[101,12.7],[100.5,13.5],[99.5,13],[99.2,9.5],[100.3,8.5],[101.8,6.5],[100.2,6.5],[98.5,8],[98.7,10.5],[99,11.5],[98.2,15],[98.8,16],[97.6,18.3],[98,19.5]]],
  'Laos': [[[100.1,20.4],[100,21.7],[101.7,21.2],[102.2,22.4],[104,20.7],[105,19],[106.7,16.5],[107.5,15],[107.5,14.5],[105.5,14.2],[105.5,15],[104.7,16.5],[104,18.3],[102.7,17.9],[101,18],[101.2,19.5]]],
  'Cambodia': [[[102.5,14],[105.5,14.2],[107.5,14.5],[106,11],[104.5,10.4],[102.9,11.7]]],
  'Vietnam': [[[102.2,22.4],[105,23],[106.8,22.8],[108,21.5],[105.8,19.5],[107,17],[109.3,13.5],[109,11.3],[107,10.4],[105,8.7],[104.5,10.4],[106,11],[107.5,14.5],[107.5,15],[106.7,16.5],[105,19],[104,20.7]]],
  'Malaysia': [
    [[100.2,6.5],[101.8,6.5],[103,5],[103.5,2.7],[104.2,1.4],[101.3,2.8],[100.4,5]],
    [[109.6,1.9],[111.3,2.5],[113,3.2],[115,5],[116.8,7],[119.2,5.2],[117.7,4.2],[115.6,4],[114.7,2],[112.5,1.4],[110,1]]
  ],
  'Indonesia': [
    [[109,0.5],[109.6,1.9],[110,1],[112.5,1.4],[114.7,2],[115.6,4],[117.7,4.2],[118,2.2],[117.5,0.5],[116.3,-1.5],[116,-4],[114.5,-4],[111.7,-3.3],[110,-2],[109.2,-0.5]],
    [[95.3,5.6],[97.5,5.2],[100.5,2.2],[103.5,0],[106,-3],[105.8,-5.8],[104.5,-5.8],[102,-4],[100.3,-1],[98.7,1.7]],
    [[105.3,-6.8],[106.8,-6],[108.5,-6.6],[110.8,-6.4],[112.7,-7],[114.5,-7.8],[114.4,-8.6],[111,-8.3],[108,-7.8]],
    [[119.5,-5.5],[120.4,-5.6],[120.5,-3],[121.5,-4.7],[122.7,-4.8],[122,-3],[121,-2.6],[123.3,-0.9],[120.7,-1.2],[120.5,0.5],[125,1.6],[124,0.8],[120,0.7],[119.8,-0.5],[119,-3]],
    [[116,-8.5],[119,-8.3],[118.8,-8.9],[116,-9]],
    [[120,-8.4],[123,-8.3],[122.8,-8.8],[120,-8.9]],
    [[123.5,-10.3],[125,-9],[124.8,-9.7]],
    [[127.5,1.8],[128.5,1],[128,-0.5],[127.7,0.5]],
    [[127.9,-3.2],[130.8,-3.2],[129.5,-3.5]],
    [[131,-0.8],[134,-0.8],[135,-3.3],[137.5,-1.6],[141,-2.6],[141,-9.1],[139,-8],[138,-8.4],[138.7,-7],[138,-5.5],[135.5,-4.4],[133,-4],[132.8,-2.8],[134,-2.3],[132,-2.2]]
  ],
  'Papua New Guinea': [
    [[141,-2.6],[144.5,-3.8],[147,-6],[147.8,-6.6],[147,-6.8],[150,-10.3],[147.5,-10],[146,-8.2],[143.3,-8.2],[142.5,-9.2],[141,-9.1]],
    [[148.5,-5.6],[152,-4.2],[152,-5.5],[150,-6.2]],
    [[150.8,-2.7],[153,-4.5],[152.5,-4]]
  ],
  'Philippines': [
    [[120.5,18.5],[122.2,18.4],[122,16],[124,13],[122,14],[120.3,14],[120,16]],
    [[122,7],[123.5,8.6],[125.5,9.7],[126.5,7.5],[125.5,6],[124,6.5]],
    [[122,11.7],[125,12.5],[125,10.5],[123,9.5],[122,10.5]],
    [[117.2,8.4],[119.5,11.3],[119.7,10.5],[118,8.5]]
  ],
  'Australia': [
    [[114,-22],[113.5,-24],[115,-30],[115,-34.3],[118,-35],[120,-34],[123.5,-33.9],[126,-32.3],[131,-31.5],[134,-32.7],[135.7,-34.8],[137.7,-33],[137.5,-35.2],[139.5,-35.8],[140.6,-38],[143.5,-38.8],[146.3,-39.1],[150,-37.5],[150.8,-35],[153,-31],[153.6,-28.5],[153,-25.5],[150.8,-23],[149,-20.5],[146.3,-19],[145.3,-15],[143.5,-14.3],[142.5,-10.7],[141.6,-13],[141,-16.5],[139,-17.5],[135.5,-15],[136.5,-12.2],[132.7,-11.5],[130.8,-12.5],[129.5,-15],[126.8,-14],[124,-16.3],[122.3,-18],[119,-20],[116,-21]],
    [[144.7,-40.7],[148.3,-40.9],[148,-43],[146.5,-43.6],[145.5,-42.5]]
  ],
  'New Zealand': [
    [[172.7,-34.5],[175.5,-36.7],[178.5,-37.7],[177,-39.5],[175.3,-41.6],[174.8,-39.8],[174.8,-37.5]],
    [[172.7,-40.5],[174.3,-41.7],[172.8,-43.8],[171,-45.5],[168.5,-46.6],[166.5,-45.9],[170,-43]]
  ],
  'Pacific islands': [
    [[156.5,-7],[158,-7.8],[157.5,-8]], [[159,-8],[160.8,-9],[160,-9.2]], [[161,-9.5],[162.3,-10.5],[161.5,-10.5]],
    [[167,-15],[167.8,-16],[167,-16]], [[164,-20],[167,-22],[166,-22.2]], [[177.3,-17.5],[178.6,-17.8],[178,-18.3]], [[179,-16.5],[180,-16.2],[179.2,-16.9]],
    [[57.4,-20],[57.8,-20.2],[57.5,-20.5]], [[55.3,-21],[55.8,-21.2],[55.4,-21.4]], [[43.3,-11.5],[43.5,-11.9],[43.2,-11.9]],
    [[-16.9,28.4],[-16.3,28.5],[-16.6,28]], [[-15.7,28.2],[-15.4,28],[-15.7,27.8]], [[-24,16],[-23.5,15.3],[-23.8,15]],
    [[-78,26.8],[-77,26.5],[-77.5,26.2]], [[-78.2,24.8],[-77.7,24.6],[-78,24.2]], [[-67.2,18.4],[-65.7,18.3],[-67.1,18]], [[-78.3,18.4],[-76.3,18.1],[-77.3,17.8]],
    [[-61.8,10.7],[-61,10.7],[-61.5,10.1]], [[-61.1,14.8],[-60.9,14.5],[-61.1,14.4]], [[-61.7,16.3],[-61.2,16.3],[-61.6,16]],
    [[125,-9],[127,-8.4],[125,-9.6]]
  ],
  'Morocco': [[[-5.9,35.8],[-2.2,35.1],[-1.3,32.5],[-3,31.5],[-5,30],[-8.7,28],[-8.7,27.3],[-12,26],[-13,23],[-13,21.3],[-17,21.3],[-16,23.5],[-14.5,26],[-13,27.8],[-10,29.5],[-9.8,31.5],[-6.8,34]]],
  'Algeria': [[[-2.2,35.1],[1,36.5],[8.6,36.9],[8.3,34.6],[7.5,33.2],[9.5,30.2],[9.8,27],[12,23.5],[6,19.5],[3.3,19],[-4.8,25],[-8.7,27.3],[-8.7,28],[-5,30],[-3,31.5],[-1.3,32.5]]],
  'Tunisia': [[[8.6,36.9],[10,37.3],[11,36.9],[10.2,34.5],[11.5,33.1],[9.5,30.2],[7.5,33.2],[8.3,34.6]]],
  'Libya': [[[11.5,33.1],[15,32.3],[19,30.3],[20,32.7],[23,32.6],[25,31.7],[25,20],[24,20],[24,19.5],[15,23],[14.2,22.6],[12,23.5],[9.8,27],[9.5,30.2]]],
  'Egypt': [[[25,31.7],[29,31],[32.5,31.2],[34.3,31.3],[34.9,29.5],[34.2,27.8],[33,29.5],[33.5,27],[35.5,24],[37,22],[25,22]]],
  'Sudan': [[[25,22],[37,22],[37.5,18.5],[36.5,14.3],[34.5,11],[33,10],[32.5,12],[27,9.5],[24,9],[22.5,11],[23.5,15.7],[24,19.5],[24,20],[25,20]]],
  'South Sudan': [[[24,9],[27,9.5],[32.5,12],[33,10],[34,8.5],[35,5],[33.5,3.7],[31,3.6],[28,4.3],[27.4,5.1]]],
  'Eritrea': [[[36.5,14.3],[37.5,18.5],[39,15],[43,12.5],[41,14.5],[38,14.5]]],
  'Ethiopia': [[[36.5,14.3],[38,14.5],[41,14.5],[43,12.5],[42.9,11],[44,9],[47.9,8],[45,5],[42,4],[39.5,3.5],[35.9,4.6],[35,5],[34,8.5],[33,10],[34.5,11]]],
  'Somalia': [[[42.9,11],[44,10.4],[51,11.9],[50.8,9.3],[47.9,4.5],[42,-1.6],[41,-1],[41,2.8],[42,4],[45,5],[47.9,8],[44,9]]],
  'Kenya': [[[35.9,4.6],[39.5,3.5],[41,3.9],[41,-1],[42,-1.6],[39.3,-4.7],[37.7,-3.5],[34,-1],[34,0.2],[35,2]]],
  'Uganda': [[[31,3.6],[33.5,3.7],[35,2],[34,0.2],[34,-1],[30.5,-1],[29.6,-1.3],[31,2.2]]],
  'Tanzania': [[[30.5,-1],[34,-1],[37.7,-3.5],[39.3,-4.7],[39,-7],[40.4,-10.5],[38,-11.3],[34.9,-11.6],[34.5,-9.6],[32,-9.3],[30.7,-8.2],[29.6,-4.5],[30.7,-2.5]]],
  'Rwanda': [[[29,-1.4],[30.5,-1],[30.7,-2.5],[29,-2.7]]],
  'Burundi': [[[29,-2.7],[30.7,-2.5],[29.6,-4.5]]],
  'DR Congo': [[[12.2,-6],[13,-4.7],[14.5,-4.8],[16.2,-2],[17.7,-0.5],[18.5,3.5],[19,4.2],[22.5,4.2],[25,5],[27.4,5.1],[28,4.3],[31,3.6],[31,2.2],[29.6,-1.3],[29,-2.7],[29.6,-4.5],[30.7,-8.2],[28.9,-8.5],[28.5,-11],[29.5,-12.3],[27.2,-11.6],[25.5,-11.4],[22,-11],[21.8,-7.3],[19.5,-7],[17.5,-6],[13,-5.9]]],
  'Congo': [[[11.2,-4.5],[13,-4.7],[14.5,-4.8],[16.2,-2],[17.7,-0.5],[18.5,3.5],[16,2],[14,1.4],[14.5,-1],[13,-2.2],[12,-2.3]]],
  'Gabon': [[[9.3,-1],[9.7,1],[11.3,1],[11.3,2.2],[13.3,2.2],[14,1.4],[14.5,-1],[13,-2.2],[12,-2.3],[11.2,-4.5]]],
  'Equatorial Guinea': [[[9.7,1],[9.8,2.3],[11.3,2.2],[11.3,1]]],
  'Cameroon': [[[8.5,4.5],[9.8,2.3],[13.3,2.2],[16,2],[15,4],[14.5,6.5],[15.5,10],[14,12.5],[14.5,13],[13.8,11.5],[12,7.5],[11,6.5],[9.7,6.5]]],
  'Central African Republic': [[[15,4],[16,2],[18.5,3.5],[19,4.2],[22.5,4.2],[25,5],[27.4,5.1],[24,9],[22.5,11],[19,9],[15.5,7.5],[14.5,6.5]]],
  'Chad': [[[15,23],[24,19.5],[23.5,15.7],[22.5,11],[19,9],[15.5,7.5],[14.5,6.5],[15.5,10],[14,12.5],[14.5,13],[13.5,14.5],[15.5,16.8]]],
  'Niger': [[[12,23.5],[14.2,22.6],[15,23],[15.5,16.8],[13.5,14.5],[13.6,13.7],[10,13.4],[7,13],[3.6,11.7],[2.8,12.3],[1,13],[1,14.9],[3.3,15.3],[3.3,19],[6,19.5]]],
  'Nigeria': [[[2.7,6.4],[4.3,6.3],[6,4.3],[8.5,4.5],[9.7,6.5],[11,6.5],[12,7.5],[13.8,11.5],[14.5,13],[13.6,13.7],[10,13.4],[7,13],[3.6,11.7],[2.8,9]]],
  'Benin': [[[1.7,6.2],[2.7,6.4],[2.8,9],[3.6,11.7],[2.8,12.3],[1,11],[1.5,9]]],
  'Togo': [[[1.1,6.1],[1.7,6.2],[1.5,9],[1,11],[0,11],[0.5,8]]],
  'Ghana': [[[-3,5],[1.1,6.1],[0.5,8],[0,11],[-2.9,11],[-2.5,8]]],
  'Ivory Coast': [[[-7.5,4.4],[-3,5],[-2.5,8],[-2.9,10],[-5.5,10.4],[-6.2,10.5],[-8,10.2],[-7.9,7.6],[-8.5,7.5]]],
  'Burkina Faso': [[[-5.5,10.4],[-2.9,10],[-2.9,11],[0,11],[1,11],[2.8,12.3],[1,13],[1,14.9],[0,15],[-2,14.2],[-4,13.3]]],
  'Mali': [[[-4.8,25],[3.3,19],[3.3,15.3],[1,14.9],[0,15],[-2,14.2],[-4,13.3],[-5.5,10.4],[-6.2,10.5],[-8,10.2],[-8.5,11.5],[-11.4,12.4],[-12,14.8],[-11.5,15.6],[-5.5,15.5],[-6,25]]],
  'Mauritania': [[[-17,21.3],[-13,21.3],[-13,23],[-12,26],[-8.7,27.3],[-4.8,25],[-6,25],[-5.5,15.5],[-11.5,15.6],[-12,14.8],[-16.5,16.2],[-16.2,19]]],
  'Senegal': [[[-16.5,16.2],[-12,14.8],[-11.4,12.4],[-13,12.6],[-16.8,12.4],[-17.5,14.7]]],
  'Guinea-Bissau': [[[-16.8,12.4],[-13.7,12.6],[-14,11],[-15.5,11]]],
  'Guinea': [[[-14,11],[-13.7,12.6],[-13,12.6],[-11.4,12.4],[-8.5,11.5],[-8,10.2],[-7.9,7.6],[-8.5,7.5],[-9.5,8.5],[-10.8,9.3],[-13.3,9]]],
  'Sierra Leone': [[[-13.3,9],[-10.8,9.3],[-10.6,8],[-11.5,6.9]]],
  'Liberia': [[[-11.5,6.9],[-10.6,8],[-9.5,8.5],[-8.5,7.5],[-7.5,4.4]]],
  'Angola': [
    [[11.8,-17.2],[12,-15],[13.8,-11],[12.5,-8],[13,-5.9],[17.5,-6],[19.5,-7],[21.8,-7.3],[22,-11],[24,-11],[24,-13],[22,-13],[22,-16.2],[23.4,-17.6],[18.5,-17.4],[14,-17.4]],
    [[12,-5],[13,-4.7],[12.2,-6]]
  ],
  'Zambia': [[[22,-13],[24,-13],[24,-11],[25.5,-11.4],[27.2,-11.6],[29.5,-12.3],[28.5,-11],[28.9,-8.5],[30.7,-8.2],[32,-9.3],[33.5,-11],[33,-14],[30.2,-15],[28,-16],[25.5,-17.7],[23.4,-17.6],[22,-16.2]]],
  'Malawi': [[[33,-9.5],[34.5,-9.6],[34.9,-11.6],[35.8,-14.5],[35,-17],[34,-14.5],[33,-14],[33.5,-11]]],
  'Mozambique': [[[34.9,-11.6],[38,-11.3],[40.4,-10.5],[40.6,-15],[37,-17.8],[35,-20],[35.5,-24],[32.9,-26],[32,-25],[32,-22.3],[32.5,-21.5],[33,-19],[33,-16],[30.2,-15],[33,-14],[34,-14.5],[35,-17],[35.8,-14.5]]],
  'Zimbabwe': [[[25.5,-17.7],[28,-16],[30.2,-15],[33,-16],[33,-19],[32.5,-21.5],[32,-22.3],[29.5,-22.2],[27.5,-20.5]]],
  'Botswana': [[[21,-18.3],[21,-22],[20,-22],[20,-24.7],[20.7,-26.8],[23,-25.3],[26,-24.7],[29.5,-22.2],[27.5,-20.5],[25.5,-17.7]]],
  'Namibia': [[[11.8,-17.2],[14,-17.4],[18.5,-17.4],[23.4,-17.6],[25.5,-17.7],[21,-18.3],[21,-22],[20,-22],[20,-28.4],[17,-28.7],[15,-26.5],[14.5,-22.7],[12.5,-18.5]]],
  'South Africa': [[[17,-28.7],[20,-28.4],[20,-24.7],[20.7,-26.8],[23,-25.3],[26,-24.7],[29.5,-22.2],[32,-22.3],[32,-25],[32.9,-26.8],[32,-29],[30,-31.5],[27,-33.7],[25,-34],[22,-34],[20,-34.8],[18.3,-34.1],[18.2,-32],[17,-29.5]]],
  'Lesotho': [[[27,-29.5],[28.5,-28.6],[29.4,-29.5],[28,-30.6]]],
  'Eswatini': [[[31,-26],[32,-26],[32,-27.2],[31,-27.3]]],
  'Madagascar': [[[49.3,-12],[50.4,-15.5],[49.5,-17],[47.5,-24],[46.5,-25.5],[45,-25.5],[43.7,-23.5],[44.4,-20],[44,-17],[46,-15.8],[48,-13.8]]]
}

// Robinson table, every 5 degrees of latitude
const robLat = d3.range(0, 91, 5)
const robLen = [1, .9986, .9954, .99, .9822, .973, .96, .9427, .9216, .8962, .8679, .835, .7986, .7597, .7186, .6732, .6213, .5722, .5322]
const robDep = [0, .062, .124, .186, .248, .31, .372, .434, .4958, .5571, .6176, .6769, .7346, .7903, .8435, .8936, .9394, .9761, 1]
const lenAt = d3.scaleLinear().domain(robLat).range(robLen)
const depAt = d3.scaleLinear().domain(robLat).range(robDep)

const robinson = (lam, phi) => {
  const deg = Math.abs(phi) * 180 / Math.PI
  return [0.8487 * lam * lenAt(deg), 1.3523 * Math.sign(phi) * depAt(deg)]
}
const projection = d3.geoProjection(robinson).scale(157).translate([364, 340])

// planar path so rings stay where they are whatever their winding
const path = d3.geoPath(d3.geoTransform({
  point(lon, lat) {
    const p = projection([lon, lat])
    this.stream.point(p[0], p[1])
  }
}))

const color = d3.scaleThreshold().domain(binEdges).range(binColors)

const toFeature = (name, value) => ({
  type: 'Feature',
  properties: {name, value},
  geometry: {
    type: 'MultiPolygon',
    coordinates: outlines[name].map(r => [[...r, r[0]]])
  }
})
const withData = countries.map((name, i) => toFeature(name, rpk[i]))
const noData = noDataCountries.map(name => toFeature(name, null))

const svg = d3.select('#app').append('svg')
  .attr('width', 850)
  .attr('height', 600)
  .attr('viewBox', [0, 0, 850, 600])
  .style('display', 'block')

const defs = svg.append('defs')
const hatch = defs.append('pattern')
  .attr('id', 'nodata')
  .attr('patternUnits', 'userSpaceOnUse')
  .attr('width', 4.8)
  .attr('height', 4.8)
  .attr('patternTransform', 'rotate(45)')
hatch.append('rect').attr('width', 4.8).attr('height', 4.8).attr('fill', '#fff')
hatch.append('line')
  .attr('x1', 0).attr('y1', 0).attr('x2', 0).attr('y2', 4.8)
  .attr('stroke', '#e2e2e2').attr('stroke-width', 4)

// titles
svg.append('text')
  .attr('x', 16).attr('y', 40)
  .attr('textLength', 686)
  .attr('lengthAdjust', 'spacingAndGlyphs')
  .style('font-family', '"Liberation Serif", serif')
  .style('font-size', '28px')
  .style('font-weight', 700)
  .attr('fill', '#444')
  .text('Total passenger kilometers from international aviation, 2018')

const subtitle = [
  'Revenue Passenger Kilometers (RPK) measures the number of kilometers traveled by paying passengers. It is',
  'calculated as the number of revenue passengers multiplied by the total distance traveled. International aviation',
  'is here allocated to the country of departure.'
]
svg.append('g').selectAll('text')
  .data(subtitle)
  .join('text')
  .attr('x', 16)
  .attr('y', (d, i) => 65 + i * 19)
  .attr('fill', '#5b5b5b')
  .style('font-size', '15px')
  .text(d => d)

// logo
const logo = svg.append('g')
logo.append('rect').attr('x', 771).attr('y', 16).attr('width', 63).attr('height', 36).attr('fill', '#002147')
logo.append('rect').attr('x', 771).attr('y', 49.5).attr('width', 63).attr('height', 2.5).attr('fill', '#ce261e')
logo.selectAll('text')
  .data(['Our World', 'in Data'])
  .join('text')
  .attr('x', 802.5)
  .attr('y', (d, i) => 30.5 + i * 13.4)
  .attr('text-anchor', 'middle')
  .attr('fill', '#fff')
  .style('font-size', '11px')
  .style('letter-spacing', '0.3px')
  .style('font-weight', 700)
  .text(d => d)

// map
svg.append('g').selectAll('path')
  .data(noData)
  .join('path')
  .attr('d', path)
  .attr('fill', 'url(#nodata)')
  .attr('stroke', '#c4c4c4')
  .attr('stroke-width', 0.6)

svg.append('g').selectAll('path')
  .data(withData)
  .join('path')
  .attr('d', path)
  .attr('fill', d => color(d.properties.value))
  .attr('stroke', '#666')
  .attr('stroke-opacity', 0.65)
  .attr('stroke-width', 0.6)

// legend
const barY = 538, barH = 11
const legendX = d3.scaleBand().domain(legendLabels).range([134, 783])
const legend = svg.append('g')

legend.selectAll('path')
  .data(legendLabels)
  .join('path')
  .attr('d', (d, i) => {
    const x0 = legendX(d), x1 = x0 + legendX.bandwidth()
    if (i === legendLabels.length - 1) {
      return `M${x0},${barY}H${x1 - 7}L${x1},${barY + barH / 2}L${x1 - 7},${barY + barH}H${x0}Z`
    }
    return `M${x0},${barY}H${x1}V${barY + barH}H${x0}Z`
  })
  .attr('fill', (d, i) => binColors[i])
  .attr('stroke', '#777')
  .attr('stroke-opacity', 0.55)
  .attr('stroke-width', 0.6)

legend.selectAll('line')
  .data(legendLabels)
  .join('line')
  .attr('x1', d => legendX(d)).attr('x2', d => legendX(d))
  .attr('y1', barY - 5).attr('y2', barY)
  .attr('stroke', '#999')
  .attr('stroke-width', 0.5)

legend.selectAll('text.bin')
  .data(legendLabels)
  .join('text')
  .attr('class', 'bin')
  .attr('x', d => legendX(d))
  .attr('y', 531)
  .attr('text-anchor', 'middle')
  .attr('fill', '#444')
  .style('font-size', '13.3px')
  .text(d => d)

legend.append('rect')
  .attr('x', 66.5).attr('y', barY).attr('width', 47.5).attr('height', barH)
  .attr('fill', 'url(#nodata)')
  .attr('stroke', '#bbb')
  .attr('stroke-width', 0.6)
legend.append('line')
  .attr('x1', 90).attr('x2', 90).attr('y1', barY - 5).attr('y2', barY)
  .attr('stroke', '#999').attr('stroke-width', 0.5)
legend.append('text')
  .attr('x', 90).attr('y', 531)
  .attr('text-anchor', 'middle')
  .attr('fill', '#444')
  .style('font-size', '13.3px')
  .text('No data')

// footer
const source = svg.append('text')
  .attr('x', 16).attr('y', 581)
  .attr('fill', '#858585')
  .style('font-size', '13px')
source.append('tspan').style('font-weight', 700).text('Data source:')
source.append('tspan').text(' ICCT - Graver, Zhang and Rutherford (2019)')

svg.append('text')
  .attr('x', 834).attr('y', 581)
  .attr('text-anchor', 'end')
  .attr('fill', '#858585')
  .style('font-size', '13px')
  .text('OurWorldinData.org/transport | CC BY')
</script>
</body>
</html>
